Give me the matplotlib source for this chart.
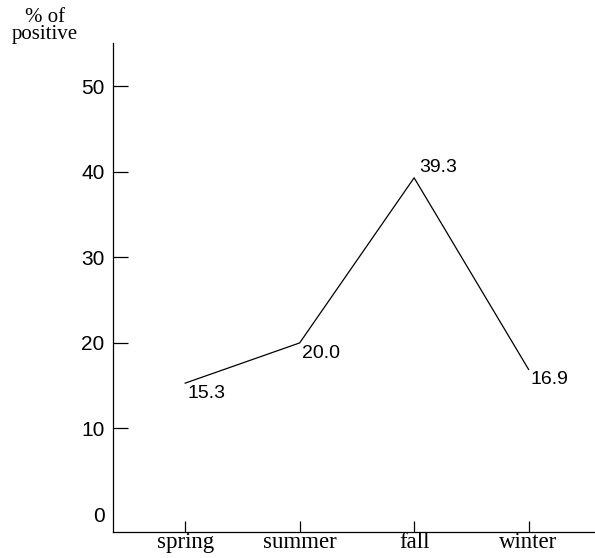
import matplotlib.pyplot as plt

seasons = ["spring", "summer", "fall", "winter"]
percent_positive = [15.3, 20.0, 39.3, 16.9]
value_labels = ["15.3", "20.0", "39.3", "16.9"]
y_ticks = [0, 10, 20, 30, 40, 50]

serif = "Liberation Serif"
sans = "Liberation Sans"

fig = plt.figure(figsize=(5.95, 5.58), dpi=100)
ax = fig.add_axes([0.19, 0.0466, 0.81, 0.877])

x = list(range(len(seasons)))
ax.plot(x, percent_positive, color="black", linewidth=0.9)

# .. Value labels next to each point (offsets in pixels).
offsets = [(2, -2, "top"), (2, -2, "top"), (5, 2, "bottom"), (2, -2, "top")]
for xi, yi, lab, (dx, dy, va) in zip(x, percent_positive, value_labels, offsets):
    ax.annotate(
        lab, (xi, yi), xytext=(dx, dy), textcoords="offset pixels",
        ha="left", va=va, fontsize=14, family=sans,
    )

ax.set_xlim(-0.63, 3.58)
ax.set_ylim(-2.1, 55.1)

ax.set_xticks(x)
ax.set_xticklabels(seasons, fontsize=16.5, family=serif)
ax.set_yticks(y_ticks)
ax.set_yticklabels([str(v) for v in y_ticks], fontsize=15, family=sans)

ax.tick_params(axis="y", direction="in", length=11, width=0.9, pad=6)
ax.tick_params(axis="x", direction="in", length=8, width=0.9, pad=0)
# No tick mark at zero, only the label.
ax.yaxis.get_major_ticks()[0].tick1line.set_visible(False)

for side in ("top", "right"):
    ax.spines[side].set_visible(False)
for side in ("left", "bottom"):
    ax.spines[side].set_linewidth(0.9)

fig.text(0.076, 0.985, "% of\npositive", ha="center", va="top",
         fontsize=15, family=serif, linespacing=0.85)

fig.savefig("out.png", dpi=100)
